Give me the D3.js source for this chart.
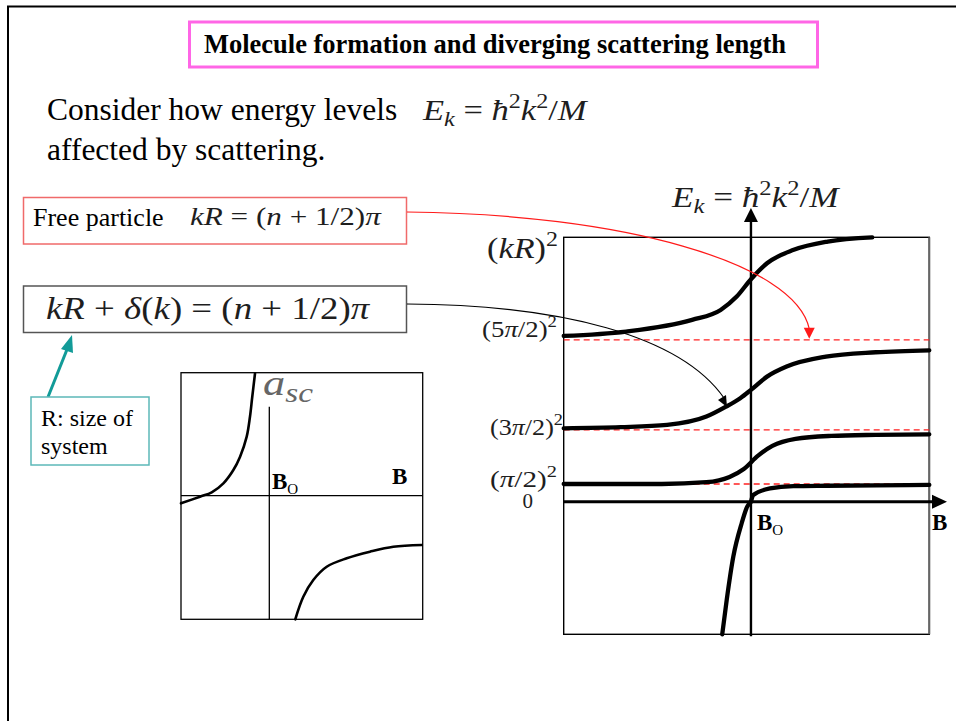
<!DOCTYPE html>
<html><head><meta charset="utf-8">
<script src="https://cdn.jsdelivr.net/npm/d3@7"></script>
<style>
html,body{margin:0;padding:0;background:#fff;}
svg{display:block;}
</style></head><body>
<svg id="c" width="956" height="721"></svg>
<script>
// Particle in a box of size R near a Feshbach resonance at B0:
// scattering length a_sc(B) and the box energy levels E_k(B) (schematic units).

// --- scattering length a_sc versus B - B0 ---
const ascLeftB  = [-1.0, -0.785, -0.652, -0.520, -0.407, -0.331, -0.256, -0.219, -0.193, -0.162];
const ascLeftA  = [-0.093, -0.012, 0.041, 0.151, 0.313, 0.476, 0.72, 0.963, 1.207, 1.49];
const ascRightB = [0.294, 0.385, 0.498, 0.650, 0.877, 1.140, 1.404, 1.726];
const ascRightA = [-1.507, -1.232, -1.028, -0.866, -0.763, -0.683, -0.622, -0.601];

// --- energy levels versus B - B0 ---
const level3B = [-1.05, -0.70, -0.33, -0.17, -0.08, 0.00, 0.09, 0.24, 0.43, 0.68];
const level3E = [9.37, 9.62, 10.28, 10.84, 11.60, 12.58, 13.48, 14.24, 14.71, 14.95];
const level2B = [-1.05, -0.73, -0.47, -0.25, -0.14, -0.06, 0.00, 0.09, 0.20, 0.42, 0.70, 1.0];
const level2E = [4.15, 4.21, 4.34, 4.81, 5.37, 5.85, 6.32, 7.07, 7.64, 8.20, 8.45, 8.56];
const level1B = [-1.05, -0.50, -0.25, -0.12, -0.04, 0.04, 0.12, 0.25, 0.45, 0.70, 1.0];
const level1E = [1.0, 1.0, 1.1, 1.4, 1.85, 2.6, 3.15, 3.55, 3.72, 3.78, 3.81];
const boundB  = [-0.161, -0.136, -0.099, -0.052, -0.021, 0.0];
const boundE  = [-7.5, -5.56, -3.11, -1.22, -0.28, 0.0];
const level0B = [0.0, 0.013, 0.107, 0.238, 0.425, 0.706, 1.0];
const level0E = [0.0, 0.38, 0.75, 0.88, 0.90, 0.92, 0.95];

// free-particle levels (n + 1/2)^2 pi^2 and their tick labels
const freeLevels = [1.0, 4.06, 9.15];
const tickValues = [0, 1.0, 4.06, 9.15, 14.95];
const tickLabels = ["0", "(π/2)^{2}", "(3π/2)^{2}", "(5π/2)^{2}", "(kR)^{2}"];

const zip = (a, b) => a.map((v, i) => [v, b[i]]);

const svg = d3.select("#c");
const SERIF = "'Liberation Serif','Times New Roman',serif";
const MATH_FILL = "#1e1e1e";

// stretch a text horizontally about its anchor x so it spans the given width
function fitWidth(t, x, width) {
  const w = t.node().getBBox().width;
  if (w > 0 && width) {
    const sx = width / w;
    t.attr("transform", `translate(${x},0) scale(${sx},1) translate(${-x},0)`);
  }
  return t;
}

// small TeX-like text: ^{..} superscript, _{..} subscript, letters in italic
function mathText(parent, x, y, size, src, opts = {}) {
  const t = parent.append("text")
    .attr("x", x).attr("y", y)
    .attr("font-family", SERIF)
    .attr("font-size", size)
    .attr("fill", opts.fill || MATH_FILL)
    .attr("text-anchor", opts.anchor || "start")
    .style("white-space", "pre");
  const segs = [];
  const push = (ch, pos) => {
    const it = /[A-Za-zħπδ]/.test(ch);
    const last = segs[segs.length - 1];
    if (last && last.it === it && last.pos === pos) last.s += ch;
    else segs.push({ s: ch, it, pos });
  };
  let i = 0;
  while (i < src.length) {
    const c = src[i];
    if ((c === "^" || c === "_") && src[i + 1] === "{") {
      const end = src.indexOf("}", i);
      for (const ch of src.slice(i + 2, end)) push(ch, c === "^" ? "sup" : "sub");
      i = end + 1;
    } else { push(c, "base"); i++; }
  }
  const shift = { base: 0, sup: -0.42 * size, sub: 0.22 * size };
  let cur = 0;
  segs.forEach(s => {
    const target = shift[s.pos];
    t.append("tspan")
      .attr("dy", target - cur)
      .attr("font-size", s.pos === "base" ? size : size * 0.7)
      .attr("font-style", s.it ? "italic" : "normal")
      .text(s.s);
    cur = target;
  });
  return fitWidth(t, x, opts.width);
}

function plainText(x, y, size, str, opts = {}) {
  return svg.append("text")
    .attr("x", x).attr("y", y)
    .attr("font-family", SERIF)
    .attr("font-size", size)
    .attr("font-weight", opts.bold ? "bold" : "normal")
    .attr("text-anchor", opts.anchor || "start")
    .attr("fill", opts.fill || "#000")
    .text(str);
}

// field label B with subscript O
function bLabel(x, y, withSub) {
  const t = svg.append("text").attr("x", x).attr("y", y)
    .attr("font-family", SERIF).attr("fill", "#000");
  t.append("tspan").attr("font-size", 23).attr("font-weight", "bold").text("B");
  if (withSub) t.append("tspan").attr("dy", 5).attr("font-size", 15).text("O");
}

// slide frame
svg.append("path").attr("d", "M8,730 L8,6.5 L970,6.5")
  .attr("fill", "none").attr("stroke", "#000").attr("stroke-width", 2);

// heading
svg.append("rect").attr("x", 189.5).attr("y", 22).attr("width", 628).attr("height", 45)
  .attr("fill", "none").attr("stroke", "#ff66e6").attr("stroke-width", 3);
plainText(495, 53, 26.5, "Molecule formation and diverging scattering length", { bold: true, anchor: "middle" });

// intro text
plainText(47, 120, 31.5, "Consider how energy levels");
mathText(svg, 423, 120, 29, "E_{k} = ħ^{2}k^{2}/M", { width: 167 });
plainText(47, 160, 31.5, "affected by scattering.");

// quantisation conditions
svg.append("rect").attr("x", 23.5).attr("y", 197.5).attr("width", 383).attr("height", 46.5)
  .attr("fill", "#fff").attr("stroke", "#f06a6a").attr("stroke-width", 1.5);
plainText(33, 226, 26, "Free particle");
mathText(svg, 190, 225, 26, "kR = (n + 1/2)π", { width: 192 });

svg.append("rect").attr("x", 23.5).attr("y", 286).attr("width", 383).attr("height", 46.5)
  .attr("fill", "#fff").attr("stroke", "#555").attr("stroke-width", 1.5);
mathText(svg, 46, 319, 31, "kR + δ(k) = (n + 1/2)π", { width: 325 });

// note on R
const TEAL = "#129b98";
svg.append("line").attr("x1", 48).attr("y1", 397).attr("x2", 68).attr("y2", 347)
  .attr("stroke", TEAL).attr("stroke-width", 3);
svg.append("polygon").attr("points", "72,335 61,349 73,353").attr("fill", TEAL);
svg.append("rect").attr("x", 31).attr("y", 397).attr("width", 118).attr("height", 68)
  .attr("fill", "#fff").attr("stroke", "#5cb8b8").attr("stroke-width", 1.5);
plainText(41, 426, 24, "R: size of");
plainText(41, 454, 24, "system");

// ---------- scattering length panel ----------
const xS = d3.scaleLinear().domain([-1, 1.737]).range([181, 422.7]);
const yS = d3.scaleLinear().domain([-1.507, 1.5]).range([619.3, 372.7]);
svg.append("rect").attr("x", xS(-1)).attr("y", yS(1.5))
  .attr("width", xS(1.737) - xS(-1)).attr("height", yS(-1.507) - yS(1.5))
  .attr("fill", "none").attr("stroke", "#000").attr("stroke-width", 1.3);
svg.append("line").attr("x1", xS(-1)).attr("x2", xS(1.737)).attr("y1", yS(0)).attr("y2", yS(0))
  .attr("stroke", "#000").attr("stroke-width", 1.3);
svg.append("line").attr("x1", xS(0)).attr("x2", xS(0)).attr("y1", yS(1.085)).attr("y2", yS(-1.507))
  .attr("stroke", "#000").attr("stroke-width", 1.3);
const lineS = d3.line().x(d => xS(d[0])).y(d => yS(d[1])).curve(d3.curveCatmullRom.alpha(0.5));
[zip(ascLeftB, ascLeftA), zip(ascRightB, ascRightA)].forEach(pts => {
  svg.append("path").attr("d", lineS(pts)).attr("fill", "none")
    .attr("stroke", "#000").attr("stroke-width", 2.6).attr("stroke-linecap", "round");
});
const asc = svg.append("text").attr("x", 263).attr("y", 395)
  .attr("font-family", SERIF).attr("fill", "#666").attr("font-style", "italic");
asc.append("tspan").attr("font-size", 36).text("a");
asc.append("tspan").attr("font-size", 27).attr("dy", 7).text("sc");
fitWidth(asc, 263, 50);
bLabel(272, 489, true);
bLabel(392, 484, false);

// ---------- energy level panel ----------
const xR = d3.scaleLinear().domain([-1.05, 1]).range([563.7, 929.3]);
const yR = d3.scaleLinear().domain([-7.5, 14.95]).range([634.3, 237.3]);

svg.append("rect").attr("x", xR(-1.05)).attr("y", yR(14.95))
  .attr("width", xR(1) - xR(-1.05)).attr("height", yR(-7.5) - yR(14.95))
  .attr("fill", "none").attr("stroke", "#000").attr("stroke-width", 1.4);
svg.append("line").attr("x1", xR(1)).attr("x2", xR(1)).attr("y1", yR(14.95)).attr("y2", yR(-7.5))
  .attr("stroke", "#666").attr("stroke-width", 2);

// free-particle reference levels
svg.selectAll(".free").data(freeLevels).enter().append("line")
  .attr("x1", xR(-1.05)).attr("x2", xR(1))
  .attr("y1", d => yR(d)).attr("y2", d => yR(d))
  .attr("stroke", "#ff2020").attr("stroke-width", 1.4).attr("stroke-dasharray", "6,4");

// axes
svg.append("line").attr("x1", xR(0)).attr("x2", xR(0)).attr("y1", yR(-7.5) + 2).attr("y2", 220)
  .attr("stroke", "#000").attr("stroke-width", 2.4);
svg.append("polygon").attr("points", `${xR(0)},208 ${xR(0) - 7},222 ${xR(0) + 7},222`).attr("fill", "#000");
svg.append("line").attr("x1", xR(-1.05)).attr("x2", 934).attr("y1", yR(0)).attr("y2", yR(0))
  .attr("stroke", "#000").attr("stroke-width", 3);
svg.append("polygon").attr("points", `947,${yR(0)} 932,${yR(0) - 7} 932,${yR(0) + 7}`).attr("fill", "#000");

// level curves
const lineR = d3.line().x(d => xR(d[0])).y(d => yR(d[1])).curve(d3.curveMonotoneX);
[zip(level3B, level3E), zip(level2B, level2E), zip(level1B, level1E),
 zip(boundB, boundE), zip(level0B, level0E)].forEach(pts => {
  svg.append("path").attr("d", lineR(pts)).attr("fill", "none")
    .attr("stroke", "#000").attr("stroke-width", 4.3)
    .attr("stroke-linecap", "round").attr("stroke-linejoin", "round");
});

// tick labels on the energy axis
const tickLayout = {
  "0":           { x: 533, dy: 6,  size: 21, w: 0 },
  "(π/2)^{2}":   { x: 557, dy: 3,  size: 23, w: 67 },
  "(3π/2)^{2}":  { x: 563, dy: 5,  size: 23, w: 73 },
  "(5π/2)^{2}":  { x: 557, dy: -3, size: 23, w: 75 },
  "(kR)^{2}":    { x: 558, dy: 21, size: 29, w: 71 }
};
tickValues.forEach((v, i) => {
  const lab = tickLabels[i], L = tickLayout[lab];
  mathText(svg, L.x, yR(v) + L.dy, L.size, lab, { anchor: "end", width: L.w });
});
mathText(svg, 672, 207, 29, "E_{k} = ħ^{2}k^{2}/M", { width: 170 });
bLabel(757, 530, true);
bLabel(932, 530, false);

// connectors from the two conditions to the level diagram
function connector(d, color, width, head) {
  svg.append("path").attr("d", d).attr("fill", "none")
    .attr("stroke", color).attr("stroke-width", width);
  svg.append("polygon").attr("points", head).attr("fill", color);
}
const redTip = [xR(0.327), yR(9.15) - 1];
connector(`M407,212 C620,214 795,262 ${redTip[0]},${redTip[1] - 10}`, "#ff1a1a", 1.2,
  `${redTip[0]},${redTip[1]} ${redTip[0] - 5.5},${redTip[1] - 11} ${redTip[0] + 5.5},${redTip[1] - 11}`);
const blkTip = [727, 407];
connector(`M407,304 C560,305 680,335 ${blkTip[0] - 3},${blkTip[1] - 9}`, "#000", 1.1,
  `${blkTip[0]},${blkTip[1]} ${blkTip[0] - 9},${blkTip[1] - 7} ${blkTip[0] - 1},${blkTip[1] - 12}`);
</script>
</body></html>
